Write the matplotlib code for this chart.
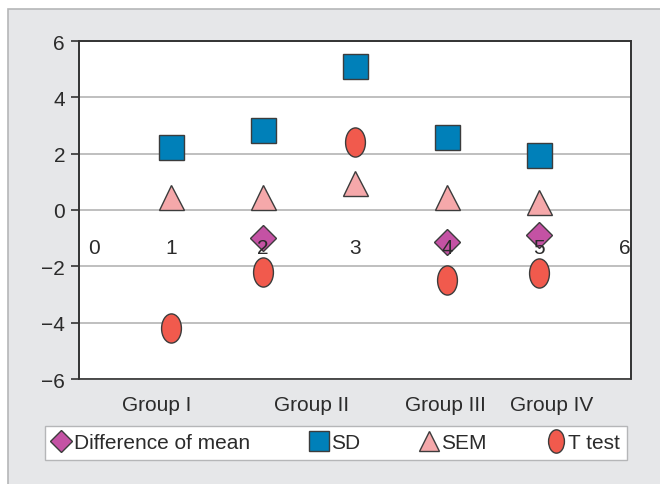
import matplotlib.pyplot as plt
import matplotlib.transforms as mtransforms
from matplotlib.patches import Rectangle
from matplotlib.path import Path
import numpy as np

plt.rcParams['font.family'] = ['Liberation Sans', 'DejaVu Sans']

# data
x_pos = [1, 2, 3, 4, 5]
diff_mean = [np.nan, -1.0, np.nan, -1.15, -0.87]
sd = [2.25, 2.85, 5.1, 2.6, 1.95]
sem = [0.45, 0.45, 0.95, 0.45, 0.3]
t_test = [-4.2, -2.2, 2.4, -2.5, -2.25]

x_ticks = [0, 1, 2, 3, 4, 5, 6]
y_ticks = [-6, -4, -2, 0, 2, 4, 6]
groups = ["Group I", "Group II", "Group III", "Group IV"]
group_pos = [0.84, 2.53, 3.98, 5.14]

edge = '#3c3c3c'
txt = '#2b2b2b'
fs = 15

# tall ellipse marker
circ = Path.unit_circle()
ellipse = Path(circ.vertices * [0.68, 1.0], circ.codes)

fig = plt.figure(figsize=(6.6, 4.85), dpi=100)
fig.patch.set_facecolor('white')
fig.patches.append(Rectangle((8 / 660, -0.05), 1.0, 1 - 10 / 485 + 0.05,
                             transform=fig.transFigure, facecolor='#e6e7e9',
                             edgecolor='#b5b6b8', linewidth=1.2, zorder=-5))

ax = fig.add_axes([79 / 660, 105 / 485, 552 / 660, 338 / 485])
ax.set_facecolor('white')
ax.set_xlim(0, 6)
ax.set_ylim(-6, 6)

for y in y_ticks:
    ax.axhline(y, color='#b4b4b4', linewidth=1.2, zorder=0.5)

ax.plot(x_pos, diff_mean, linestyle='none', marker='D', markersize=13.5,
        markerfacecolor='#c452a4', markeredgecolor=edge, markeredgewidth=1,
        label='Difference of mean', zorder=2)
ax.plot(x_pos, sd, linestyle='none', marker='s', markersize=18,
        markerfacecolor='#0080b9', markeredgecolor=edge, markeredgewidth=1,
        label='SD', zorder=2)
ax.plot(x_pos, sem, linestyle='none', marker='^', markersize=18,
        markerfacecolor='#f5a8aa', markeredgecolor=edge, markeredgewidth=1,
        label='SEM', zorder=2)
ax.plot(x_pos, t_test, linestyle='none', marker=ellipse, markersize=21,
        markerfacecolor='#f15a4d', markeredgecolor=edge, markeredgewidth=1,
        label='T test', zorder=2)

# axis frame
for s in ['top', 'right', 'left']:
    ax.spines[s].set_color('#333333')
    ax.spines[s].set_linewidth(1.2)
ax.spines['bottom'].set_position(('data', 0))
ax.spines['bottom'].set_visible(False)
ax.add_patch(Rectangle((0, 0), 1, 1, transform=ax.transAxes, fill=False,
                       edgecolor='#333333', linewidth=1.2, zorder=3, clip_on=False))
ax.set_axisbelow(False)

ax.set_yticks(y_ticks)
ax.set_yticklabels([str(v).replace('-', '\u2212') for v in y_ticks], fontsize=fs, color=txt)
ax.tick_params(axis='y', direction='out', length=6, width=1.2, color='#333333', pad=4)

ax.set_xticks(x_ticks)
ax.set_xticklabels([str(v) for v in x_ticks], fontsize=fs, color=txt)
ax.tick_params(axis='x', length=0, pad=20)
labels = ax.get_xticklabels()
labels[0].set_horizontalalignment('left')
labels[0].set_transform(labels[0].get_transform() +
                        mtransforms.ScaledTranslation(9 / 100, 0, fig.dpi_scale_trans))
labels[-1].set_horizontalalignment('right')

trans = mtransforms.blended_transform_factory(ax.transData, ax.transAxes)
for g, p in zip(groups, group_pos):
    ax.text(p, -0.075, g, transform=trans, ha='center', va='center',
            fontsize=fs, color=txt)

leg = ax.legend(loc='center', bbox_to_anchor=(336 / 660, 1 - 444 / 485),
                bbox_transform=fig.transFigure, ncol=4, fontsize=fs,
                frameon=True, fancybox=False, framealpha=1, markerscale=0.8,
                handlelength=0.9, handletextpad=0.15, columnspacing=2.85,
                borderpad=0.35, borderaxespad=0)
leg.get_frame().set_edgecolor('#b5b6b8')
leg.get_frame().set_linewidth(1.0)
for t in leg.get_texts():
    t.set_color(txt)

fig.savefig('out.png', dpi=100, facecolor=fig.get_facecolor())
